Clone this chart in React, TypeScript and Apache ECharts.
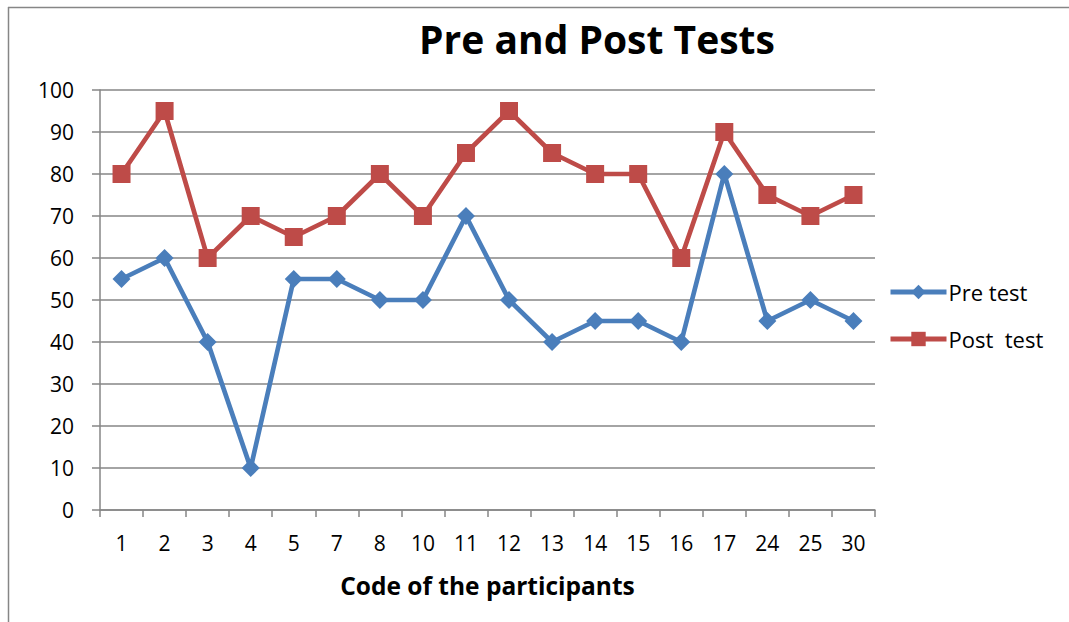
import React, { useEffect, useRef } from "react";
import * as echarts from "echarts";

const categories = ["1", "2", "3", "4", "5", "7", "8", "10", "11", "12", "13", "14", "15", "16", "17", "24", "25", "30"];
const preTest = [55, 60, 40, 10, 55, 55, 50, 50, 70, 50, 40, 45, 45, 40, 80, 45, 50, 45];
const postTest = [80, 95, 60, 70, 65, 70, 80, 70, 85, 95, 85, 80, 80, 60, 90, 75, 70, 75];

const FONT = "Open Sans";

export default function App() {
  const ref = useRef<HTMLDivElement>(null);
  useEffect(() => {
    if (!ref.current) return;
    const chart = echarts.init(ref.current, null, { renderer: "svg" });
    chart.setOption({
      animation: false,
      backgroundColor: "#ffffff",
      title: {
        text: "Pre and Post Tests",
        left: 592,
        top: 14,
        textAlign: "center",
        textStyle: { fontFamily: FONT, fontSize: 39, fontWeight: "bold", color: "#000" },
      },
      graphic: [
        { type: "line", shape: { x1: 8.5, y1: 7, x2: 8.5, y2: 622 }, style: { stroke: "#868686", lineWidth: 1.5 } },
        { type: "line", shape: { x1: 8, y1: 7.5, x2: 1069, y2: 7.5 }, style: { stroke: "#868686", lineWidth: 1.5 } },
      ],
      legend: {
        orient: "vertical",
        left: 883,
        top: 276,
        itemWidth: 56,
        itemHeight: 18,
        itemGap: 25,
        lineStyle: { width: 5 },
        textStyle: { fontFamily: FONT, fontSize: 22, color: "#000", padding: [0, 0, 0, -3] },
        data: ["Pre test", "Post  test"],
      },
      grid: { left: 100, right: 194, top: 90, bottom: 112 },
      xAxis: {
        type: "category",
        data: categories,
        boundaryGap: true,
        name: "Code of the participants",
        nameLocation: "middle",
        nameGap: 63,
        nameTextStyle: { fontFamily: FONT, fontSize: 24.5, fontWeight: "bold", color: "#000" },
        axisLine: { lineStyle: { color: "#868686", width: 1.5 } },
        axisTick: { show: true, length: 7, alignWithLabel: false, lineStyle: { color: "#868686", width: 1.5 } },
        axisLabel: { fontFamily: FONT, fontSize: 21, color: "#000", margin: 22, interval: 0 },
        splitLine: { show: false },
      },
      yAxis: {
        type: "value",
        min: 0,
        max: 100,
        interval: 10,
        axisLine: { show: true, lineStyle: { color: "#868686", width: 1.5 } },
        axisTick: { show: true, length: 8, lineStyle: { color: "#868686", width: 1.5 } },
        axisLabel: { fontFamily: FONT, fontSize: 21, color: "#000", margin: 26 },
        splitLine: { show: true, lineStyle: { color: "#868686", width: 1.5 } },
      },
      series: [
        {
          name: "Pre test",
          type: "line",
          data: preTest,
          symbol: "diamond",
          symbolSize: 18,
          lineStyle: { color: "#4A7EBB", width: 4.7 },
          itemStyle: { color: "#4A7EBB" },
        },
        {
          name: "Post  test",
          type: "line",
          data: postTest,
          symbol: "rect",
          symbolSize: 18,
          lineStyle: { color: "#BE4B48", width: 4.7 },
          itemStyle: { color: "#BE4B48" },
        },
      ],
    });
    return () => chart.dispose();
  }, []);
  return (
    <div
      ref={ref}
      style={{ position: "absolute", left: 0, top: 0, width: 1069, height: 622 }}
    />
  );
}
